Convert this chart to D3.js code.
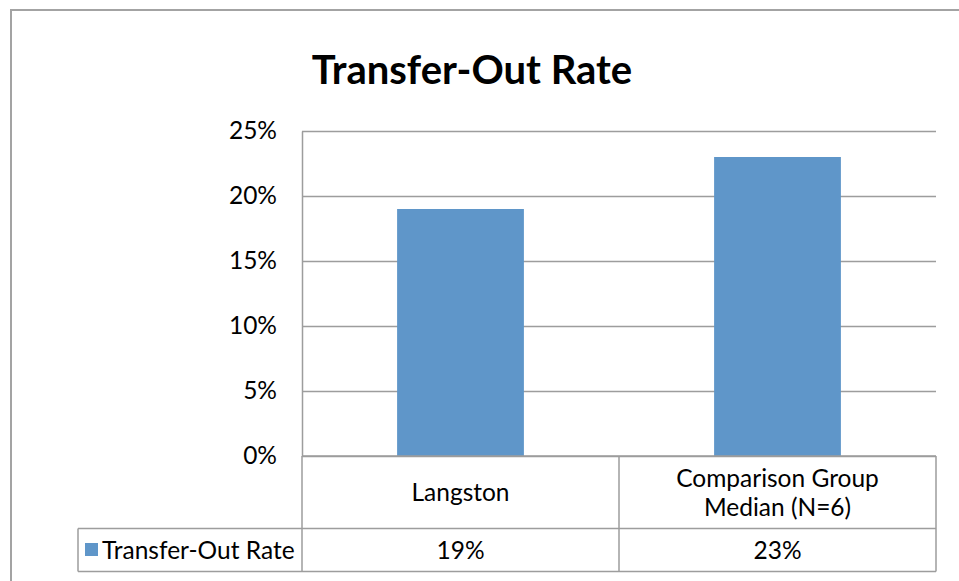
<!DOCTYPE html>
<html>
<head>
<meta charset="utf-8">
<script src="https://cdn.jsdelivr.net/npm/d3@7"></script>
<style>
  html, body { margin: 0; padding: 0; background: #fff; }
  svg { display: block; }
</style>
</head>
<body>
<div id="chart"></div>
<script>
const categories = ['Langston', 'Comparison Group Median (N=6)']
const categoryLines = [['Langston'], ['Comparison Group', 'Median (N=6)']]
const seriesName = 'Transfer-Out Rate'
const values = [0.19, 0.23]
const tickValues = [0, 0.05, 0.10, 0.15, 0.20, 0.25]

const width = 959
const height = 581
const plot = { left: 302, right: 936, top: 131, bottom: 456 }
const table = { left: 78, rowMid: 528.5, bottom: 571.5 }
const lineColor = '#9d9d9d'
const barColor = '#5f96c9'
const font = 'Lato, "Open Sans", sans-serif'
const fontSize = '24.5px'

const svg = d3.select('#chart')
  .append('svg')
  .attr('width', width)
  .attr('height', height)

svg.append('rect')
  .attr('width', width).attr('height', height)
  .attr('fill', '#fff')

// 外框
svg.append('rect')
  .attr('x', 11).attr('y', 10)
  .attr('width', width).attr('height', height)
  .attr('fill', 'none')
  .attr('stroke', '#a3a3a3')
  .attr('stroke-width', 2)

// 标题
svg.append('text')
  .attr('x', 472)
  .attr('y', 84)
  .attr('text-anchor', 'middle')
  .style('font-family', font)
  .style('font-weight', 'bold')
  .style('font-size', '40px')
  .attr('fill', '#000')
  .text('Transfer-Out Rate')

const x = d3.scaleBand()
  .domain(categories)
  .range([plot.left, plot.right])
  .paddingInner(0.6)
  .paddingOuter(0.3)

const y = d3.scaleLinear()
  .domain([0, 0.25])
  .range([plot.bottom, plot.top])

// 坐标轴 + 网格线
const yAxis = svg.append('g')
  .attr('transform', `translate(${plot.left},0)`)
  .call(d3.axisLeft(y)
    .tickValues(tickValues)
    .tickFormat(d3.format('.0%'))
    .tickSizeInner(-(plot.right - plot.left))
    .tickSizeOuter(0)
    .tickPadding(25))

yAxis.selectAll('path, line')
  .attr('stroke', lineColor)
  .attr('stroke-width', 1.5)
yAxis.selectAll('text')
  .style('font-family', font)
  .style('font-size', fontSize)
  .attr('fill', '#000')

// 柱子
svg.selectAll('.bar')
  .data(values)
  .enter().append('rect')
  .attr('class', 'bar')
  .attr('x', (d, i) => x(categories[i]))
  .attr('width', x.bandwidth())
  .attr('y', d => y(d))
  .attr('height', d => y(0) - y(d))
  .attr('fill', barColor)

// 数据表
const step = x.step()
const tbl = svg.append('g')
  .attr('stroke', lineColor)
  .attr('stroke-width', 1.5)

tbl.append('line')
  .attr('x1', plot.left).attr('x2', plot.right)
  .attr('y1', plot.bottom).attr('y2', plot.bottom)
tbl.append('line')
  .attr('x1', table.left).attr('x2', plot.right)
  .attr('y1', table.rowMid).attr('y2', table.rowMid)
tbl.append('line')
  .attr('x1', table.left).attr('x2', plot.right)
  .attr('y1', table.bottom).attr('y2', table.bottom)
tbl.append('line')
  .attr('x1', table.left).attr('x2', table.left)
  .attr('y1', table.rowMid).attr('y2', table.bottom)
tbl.append('line')
  .attr('x1', plot.left).attr('x2', plot.left)
  .attr('y1', plot.bottom).attr('y2', table.bottom)
tbl.append('line')
  .attr('x1', plot.left + step).attr('x2', plot.left + step)
  .attr('y1', plot.bottom).attr('y2', table.bottom)
tbl.append('line')
  .attr('x1', plot.right).attr('x2', plot.right)
  .attr('y1', plot.bottom).attr('y2', table.bottom)

// 类别标签
const catLabels = svg.selectAll('.cat')
  .data(categoryLines)
  .enter().append('text')
  .attr('class', 'cat')
  .attr('text-anchor', 'middle')
  .style('font-family', font)
  .style('font-size', fontSize)
  .attr('fill', '#000')

catLabels.each(function(lines, i) {
  const cx = x(categories[i]) + x.bandwidth() / 2
  const midY = (plot.bottom + table.rowMid) / 2
  const lh = 29
  const y0 = midY - (lines.length - 1) * lh / 2 + 9
  d3.select(this).selectAll('tspan')
    .data(lines)
    .enter().append('tspan')
    .attr('x', cx)
    .attr('y', (d, j) => y0 + j * lh)
    .text(d => d)
})

// 数值行
const rowY = (table.rowMid + table.bottom) / 2 + 9
svg.selectAll('.val')
  .data(values)
  .enter().append('text')
  .attr('class', 'val')
  .attr('x', (d, i) => x(categories[i]) + x.bandwidth() / 2)
  .attr('y', rowY)
  .attr('text-anchor', 'middle')
  .style('font-family', font)
  .style('font-size', fontSize)
  .attr('fill', '#000')
  .text(d => d3.format('.0%')(d))

// 图例
svg.append('rect')
  .attr('x', 85).attr('y', 543)
  .attr('width', 13).attr('height', 13)
  .attr('fill', barColor)
svg.append('text')
  .attr('x', 102)
  .attr('y', rowY)
  .style('font-family', font)
  .style('font-size', fontSize)
  .attr('fill', '#000')
  .text(seriesName)
</script>
</body>
</html>
